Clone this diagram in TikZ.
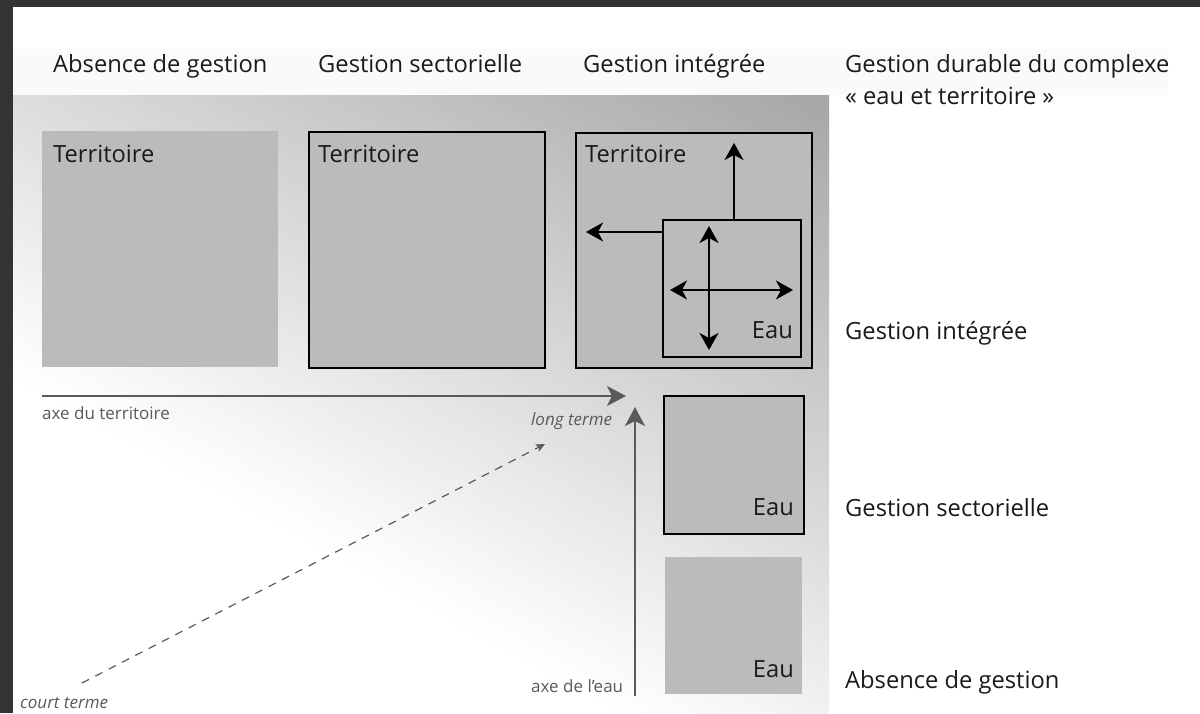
\documentclass[tikz,border=0pt]{standalone}
\usepackage{fontspec}
\setmainfont{Open Sans}
\usetikzlibrary{arrows.meta,calc}
\definecolor{framec}{HTML}{333333}
\definecolor{boxfill}{HTML}{BBBBBB}
\definecolor{axisc}{HTML}{5A5A5A}
\definecolor{txt}{HTML}{1A1A1A}
\definecolor{gradtop}{HTML}{A6A6A6}
\begin{document}
\begin{tikzpicture}[x=1pt,y=-1pt,
  big/.style={font=\fontsize{23.7}{28}\selectfont, text=txt, inner sep=0pt, anchor=base west},
  small/.style={font=\fontsize{17}{20}\selectfont, text=axisc, inner sep=0pt, anchor=base west},
  smallit/.style={small, font=\fontsize{17}{20}\selectfont\itshape},
  plainbox/.style={fill=boxfill, inner sep=0pt, anchor=north west},
  linebox/.style={plainbox, draw=black, line width=2pt},
  barrow/.style={line width=2pt, black, -{Stealth[length=17pt,width=19pt,inset=5pt]}},
  barrows/.style={line width=2pt, black, {Stealth[length=17pt,width=19pt,inset=5pt]}-{Stealth[length=17pt,width=19pt,inset=5pt]}},
  axarrow/.style={line width=1.5pt, axisc, -{Stealth[length=19pt,width=20pt,inset=5pt]}},
  dasharrow/.style={line width=1.2pt, axisc, dash pattern=on 8pt off 7pt, -{Stealth[length=9pt,width=8pt,inset=2pt]}}
]
\useasboundingbox (0,0) rectangle (1200,713);
\fill[white] (0,0) rectangle (1200,713);
\fill[framec] (0,0) rectangle (1200,7);
\fill[framec] (0,0) rectangle (13,713);
\fill[gray!4] (13,49) rectangle (1168,95);
% background gradient: white at bottom-left, darker towards top-right
\begin{scope}
  \clip (13,95) rectangle (829,713);
  \fill[white] (13,95) rectangle (829,713);
  \foreach \i in {0,...,69}{
    \pgfmathsetmacro{\ua}{300+\i*9.186}
    \pgfmathsetmacro{\ub}{\ua+10}
    \pgfmathsetmacro{\pd}{100*(\i+0.5)/70}
    \fill[gradtop!\pd!white]
      ({0.485*\ua-0.875*1300},{713-0.875*\ua-0.485*1300}) --
      ({0.485*\ua+0.875*1300},{713-0.875*\ua+0.485*1300}) --
      ({0.485*\ub+0.875*1300},{713-0.875*\ub+0.485*1300}) --
      ({0.485*\ub-0.875*1300},{713-0.875*\ub-0.485*1300}) -- cycle;
  }
  \fill[gradtop]
      ({0.485*940-0.875*1300},{713-0.875*940-0.485*1300}) --
      ({0.485*940+0.875*1300},{713-0.875*940+0.485*1300}) --
      ({0.485*1200+0.875*1300},{713-0.875*1200+0.485*1300}) --
      ({0.485*1200-0.875*1300},{713-0.875*1200-0.485*1300}) -- cycle;
\end{scope}

% headers
\node[big] (h1) at (53,72) {Absence de gestion};
\node[big] (h2) at (318,72) {Gestion sectorielle};
\node[big] (h3) at (583,72) {Gestion intégrée};
\node[big] (h4) at (845,72) {Gestion durable du complexe};
\node[big] (h4b) at (845,104) {« eau et territoire »};

% right labels
\node[big] (r1) at (845,339) {Gestion intégrée};
\node[big] (r2) at (845,516) {Gestion sectorielle};
\node[big] (r3) at (845,688) {Absence de gestion};

% territoire boxes
\node[plainbox, minimum width=236pt, minimum height=236pt] (t1) at (42,131) {};
\node[linebox, minimum width=236pt, minimum height=236pt] (t2) at (308,131) {};
\node[linebox, minimum width=236pt, minimum height=235pt] (t3) at (575,132) {};
\node[big] (t1l) at (53,162) {Territoire};
\node[big] (t2l) at (318,162) {Territoire};
\node[big] (t3l) at (585,162) {Territoire};

% eau boxes
\node[linebox, minimum width=138pt, minimum height=137pt] (e1) at (662,219) {};
\node[linebox, minimum width=140pt, minimum height=138pt] (e2) at (663,395) {};
\node[plainbox, minimum width=137pt, minimum height=137pt] (e3) at (665,557) {};
\node[big, anchor=base east] (e1l) at (793,338) {Eau};
\node[big, anchor=base east] (e2l) at (794,515) {Eau};
\node[big, anchor=base east] (e3l) at (794,677) {Eau};

% arrows in integrated box
\coordinate (upTip) at (734,143);
\coordinate (leftTip) at (586,232);
\draw[barrow] (e1.north -| upTip) -- (upTip);
\draw[barrow] (e1.west |- leftTip) -- (leftTip);
\coordinate (cN) at (709,226);
\coordinate (cS) at (709,350);
\coordinate (cW) at (670,290);
\coordinate (cE) at (793,290);
\draw[barrows] (cN) -- (cS);
\draw[barrows] (cW) -- (cE);

% axes
\coordinate (tA) at (42,396);
\coordinate (tB) at (626,396);
\coordinate (wA) at (635,696);
\coordinate (wB) at (635,407);
\coordinate (dA) at (82,683);
\coordinate (dB) at (545,444);
\draw[axarrow] (tA) -- (tB);
\draw[axarrow] (wA) -- (wB);
\draw[dasharrow] (dA) -- (dB);

\node[small] (tl) at (42,419) {axe du territoire};
\node[smallit] (lt) at (531,425) {long terme};
\node[small] (wl) at (531,692) {axe de l’eau};
\node[smallit] (ct) at (20,708) {court terme};
\end{tikzpicture}
\end{document}
